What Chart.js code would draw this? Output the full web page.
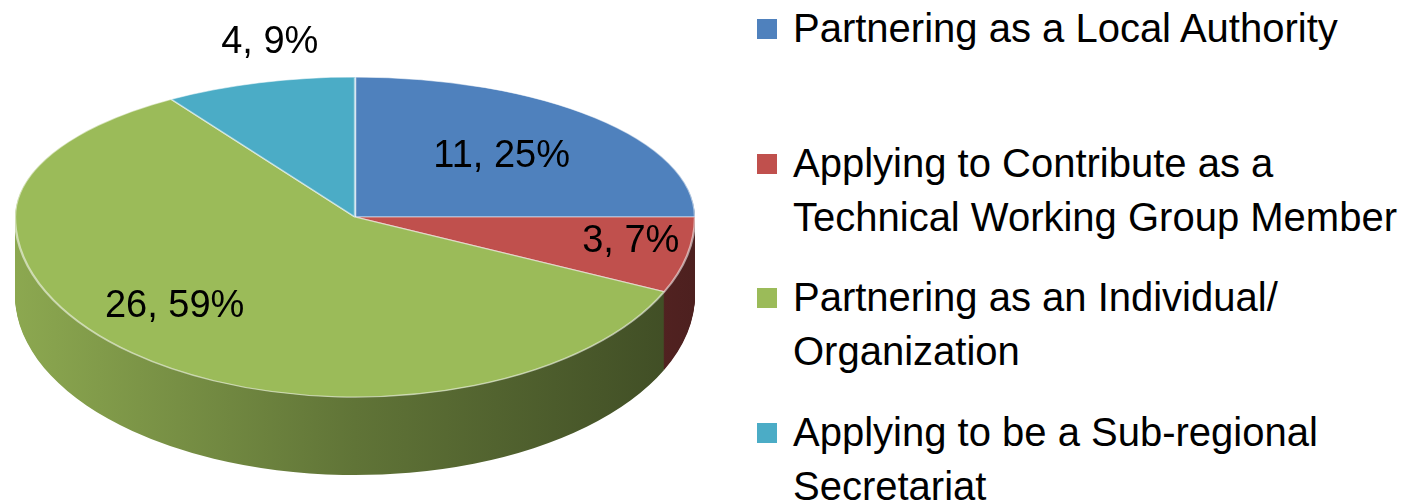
<!DOCTYPE html>
<html lang="en">
<head>
  <meta charset="UTF-8">
  <title>Partnership applications</title>
  <script src="https://cdn.jsdelivr.net/npm/chart.js"></script>
  <style>
    html, body { margin: 0; padding: 0; background: #fff; }
    body { width: 1416px; height: 502px; position: relative; overflow: hidden; font-family: 'Liberation Sans', Arial, sans-serif; }
    #pie { position: absolute; left: 0; top: 0; }
    #legend { position: absolute; left: 757px; top: 0; }
    .item { position: absolute; left: 0; white-space: nowrap; font-size: 40px; line-height: 54px; color: #000; }
    .item .box { position: absolute; left: 0; top: 18px; width: 20px; height: 20px; }
    .item .txt { margin-left: 36px; }
  </style>
</head>
<body>
  <canvas id="pie" width="740" height="502"></canvas>
  <div id="legend"></div>

  <script>
    // data
    const categories = [
      ['Partnering as a Local Authority'],
      ['Applying to Contribute  as a', 'Technical Working Group Member'],
      ['Partnering as an Individual/', 'Organization'],
      ['Applying to be a Sub-regional', 'Secretariat']
    ];
    const counts = [11, 3, 26, 4];
    const colors = ['#4F81BD', '#C0504D', '#9BBB59', '#4BACC6'];

    const total = counts.reduce((a, b) => a + b, 0);

    // look of the fake 3d pie
    const RX = 340, RY_TOP = 140, RY_BOTTOM = 180, DEPTH = 78;
    // where each label sits, as fraction of radius (x, y)
    const labelAnchor = [[0.61, 0.61], [0.83, 0.65], [0.81, 0.66], [0.89, 1.3]];

    function shade(hex, f) {
      const n = parseInt(hex.slice(1), 16);
      const r = Math.round(((n >> 16) & 255) * f);
      const g = Math.round(((n >> 8) & 255) * f);
      const b = Math.round((n & 255) * f);
      return `rgb(${r},${g},${b})`;
    }

    const pie3d = {
      id: 'pie3d',
      beforeDatasetsDraw(chart) {
        const ctx = chart.ctx;
        const arcs = chart.getDatasetMeta(0).data;
        const cx = arcs[0].x, cy = arcs[0].y, r = arcs[0].outerRadius;
        const sx = RX / r, syT = RY_TOP / r, syB = RY_BOTTOM / r;
        const W = chart.width, H = chart.height;

        // draw the library's arcs squashed into an ellipse (back half flatter)
        const paint = (dy, styleFor) => {
          [[0, cy + dy, syT], [cy + dy, H, syB]].forEach(([y0, y1, sy]) => {
            ctx.save();
            ctx.beginPath();
            ctx.rect(0, y0, W, y1 - y0);
            ctx.clip();
            ctx.translate(cx, cy + dy);
            ctx.scale(sx, sy);
            ctx.translate(-cx, -cy);
            arcs.forEach((a, i) => {
              const orig = a.options;
              a.options = Object.assign({}, orig, styleFor(i));
              a.draw(ctx);
              a.options = orig;
            });
            ctx.restore();
          });
        };

        const sideFill = colors.map(c => {
          const g = ctx.createLinearGradient(cx - r, 0, cx + r, 0);
          g.addColorStop(0, shade(c, 0.9));
          g.addColorStop(0.5, shade(c, 0.62));
          g.addColorStop(1, shade(c, 0.4));
          return g;
        });
        for (let k = DEPTH; k >= 1; k--) {
          paint(k, i => ({ backgroundColor: sideFill[i], borderWidth: 0 }));
        }
        paint(0, () => ({}));

        // labels "value, percent"
        ctx.save();
        ctx.font = '38px "Liberation Sans", Arial, sans-serif';
        ctx.fillStyle = '#000';
        ctx.textAlign = 'center';
        ctx.textBaseline = 'middle';
        arcs.forEach((a, i) => {
          const mid = (a.startAngle + a.endAngle) / 2;
          const c = Math.cos(mid), s = Math.sin(mid);
          const x = cx + c * r * sx * labelAnchor[i][0];
          const y = cy + s * r * (s < 0 ? syT : syB) * labelAnchor[i][1];
          ctx.fillText(`${counts[i]}, ${Math.round(counts[i] / total * 100)}%`, x, y);
        });
        ctx.restore();
        return false;
      }
    };

    new Chart(document.getElementById('pie'), {
      type: 'pie',
      data: {
        labels: categories,
        datasets: [{
          data: counts,
          backgroundColor: colors,
          borderColor: 'rgba(255,255,255,0.55)',
          borderWidth: 1.5
        }]
      },
      options: {
        responsive: false,
        animation: false,
        layout: { padding: { left: 0, right: 30, top: 0, bottom: 68 } },
        plugins: {
          legend: { display: false },
          tooltip: { enabled: false }
        }
      },
      plugins: [pie3d]
    });

    // legend on the right
    const legend = document.getElementById('legend');
    categories.forEach((lines, i) => {
      const item = document.createElement('div');
      item.className = 'item';
      item.style.top = Math.round(1 + i * 134.7) + 'px';
      const box = document.createElement('div');
      box.className = 'box';
      box.style.background = colors[i];
      const txt = document.createElement('div');
      txt.className = 'txt';
      txt.innerHTML = lines.join('<br>');
      item.appendChild(box);
      item.appendChild(txt);
      legend.appendChild(item);
    });
  </script>
</body>
</html>
